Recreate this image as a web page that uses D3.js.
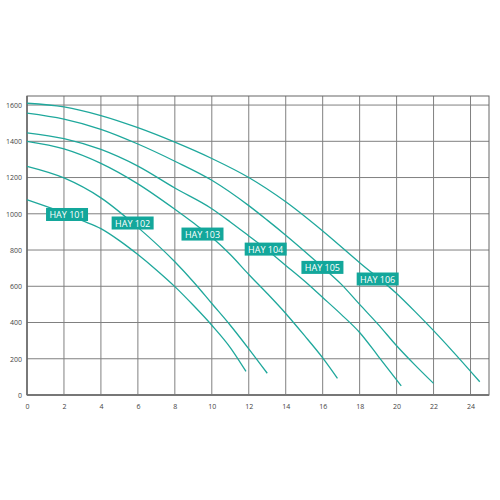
<!DOCTYPE html>
<html>
<head>
<meta charset="utf-8">
<script src="https://d3js.org/d3.v7.min.js"></script>
<style>
  body { margin:0; background:#fff; }
  text { font-family: "Open Sans", "DejaVu Sans", sans-serif; }
</style>
</head>
<body>
<div id="chart"></div>
<script>
// pump curves: flow (x) vs head (y)
var names = ["HAY 101", "HAY 102", "HAY 103", "HAY 104", "HAY 105", "HAY 106"];

var hay101 = [[0,1078],[1,1042],[2,1005],[3,962],[4,918],[5,852],[6,775],[7,690],[8,598],[9,495],[10,385],[11,262],[11.85,130]];
var hay102 = [[0,1262],[2,1198],[4,1088],[6,925],[8,735],[9,625],[10,505],[11,385],[12,255],[13,120]];
var hay103 = [[0,1400],[2,1358],[4,1278],[6,1165],[8,1025],[9,950],[10,870],[11,775],[12,665],[13,560],[14,450],[15,330],[16,205],[16.8,92]];
var hay104 = [[0,1447],[2,1415],[4,1355],[6,1263],[8,1142],[10,1028],[11,955],[12,878],[13,800],[14,715],[15,630],[16,538],[17,445],[18,345],[19,215],[20.25,50]];
var hay105 = [[0,1555],[2,1522],[4,1466],[6,1385],[8,1290],[10,1185],[12,1045],[13,965],[14,882],[15,795],[16,705],[17,612],[18,500],[19,390],[20,272],[21,165],[22,64]];
var hay106 = [[0,1610],[2,1590],[4,1542],[6,1475],[8,1395],[10,1305],[12,1200],[14,1066],[16,905],[18,730],[20,560],[21,460],[22,355],[23,245],[24.5,73]];
var series = [hay101, hay102, hay103, hay104, hay105, hay106];

// where the name tags sit (top-left corner, data units)
var labelX = [1.03, 4.58, 8.36, 11.78, 14.85, 17.84];
var labelY = [1032, 985, 924, 841, 740, 676];

var xTicks = [0,2,4,6,8,10,12,14,16,18,20,22,24];
var yTicks = [0,200,400,600,800,1000,1200,1400,1600];

var teal = "#1fa89c";

var svg = d3.select("#chart").append("svg")
  .attr("width", 500).attr("height", 500);

var x = d3.scaleLinear().domain([0,25]).range([27,489]);
var y = d3.scaleLinear().domain([0,1650]).range([395,96]);

// grid
svg.append("g").selectAll("line").data(xTicks.slice(1)).enter().append("line")
  .attr("x1", function(d){return x(d);}).attr("x2", function(d){return x(d);})
  .attr("y1", y(1650)).attr("y2", y(0))
  .attr("stroke", "#808080").attr("stroke-width", 1);
svg.append("g").selectAll("line").data(yTicks.slice(1)).enter().append("line")
  .attr("x1", x(0)).attr("x2", x(25))
  .attr("y1", function(d){return y(d);}).attr("y2", function(d){return y(d);})
  .attr("stroke", "#808080").attr("stroke-width", 1);

// frame
svg.append("rect")
  .attr("x", x(0)).attr("y", y(1650))
  .attr("width", x(25)-x(0)).attr("height", y(0)-y(1650))
  .attr("fill", "none").attr("stroke", "#666").attr("stroke-width", 1);
svg.append("line")
  .attr("x1", x(0)).attr("x2", x(25)).attr("y1", y(0)).attr("y2", y(0))
  .attr("stroke", "#777").attr("stroke-width", 2);
svg.append("line")
  .attr("x1", x(0)).attr("x2", x(0)).attr("y1", y(1650)).attr("y2", y(0))
  .attr("stroke", "#666").attr("stroke-width", 1.5);

// axes (labels only, grid does the ticks)
var xAxis = svg.append("g").attr("transform","translate(0,"+y(0)+")")
  .call(d3.axisBottom(x).tickValues(xTicks).tickSize(0).tickPadding(9).tickFormat(d3.format("d")));
var yAxis = svg.append("g").attr("transform","translate("+x(0)+",0)")
  .call(d3.axisLeft(y).tickValues(yTicks).tickSize(0).tickPadding(5).tickFormat(d3.format("d")));
[xAxis, yAxis].forEach(function(a){
  a.select(".domain").remove();
  a.selectAll("text").attr("font-size", 7).attr("fill", "#444")
    .attr("font-family", "'Open Sans', sans-serif");
});

// curves
var line = d3.line()
  .x(function(d){return x(d[0]);})
  .y(function(d){return y(d[1]);})
  .curve(d3.curveMonotoneX);

svg.append("g").selectAll("path").data(series).enter().append("path")
  .attr("d", line)
  .attr("fill", "none").attr("stroke", teal).attr("stroke-width", 1.3);

// name tags
var tags = svg.append("g").selectAll("g").data(names).enter().append("g")
  .attr("transform", function(d,i){return "translate("+x(labelX[i])+","+y(labelY[i])+")";});
tags.append("rect").attr("width", 42).attr("height", 13).attr("fill", "#13a79b");
tags.append("text").attr("x", 21).attr("y", 10)
  .attr("text-anchor", "middle").attr("font-size", 9).attr("fill", "#fff")
  .text(function(d){return d;});
</script>
</body>
</html>
